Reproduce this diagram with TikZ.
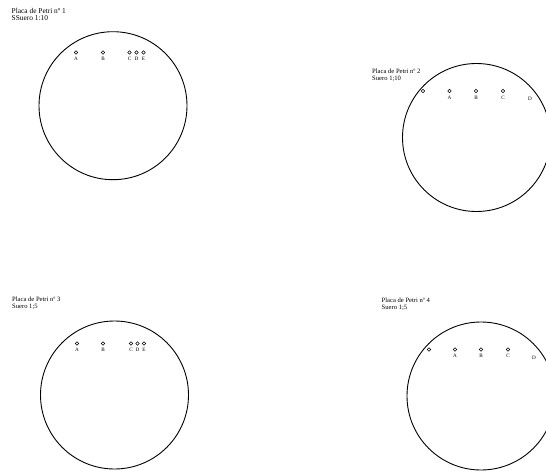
\documentclass[tikz,border=0pt]{standalone}
\usepackage{fontspec}
\setmainfont{Liberation Serif}
\usetikzlibrary{positioning}

\begin{document}
\begin{tikzpicture}[
      x=1pt, y=-1pt,
      plate/.style={circle, draw=black, line width=0.9pt, minimum size=148pt, inner sep=0pt},
      well/.style={circle, draw=black, line width=0.45pt, minimum size=3.6pt, inner sep=0pt},
      lbl/.style={font=\fontsize{5.2}{6}\selectfont, inner sep=0pt},
      title/.style={font=\fontsize{6.6}{7}\selectfont, align=left, anchor=north west, inner sep=0pt},
      tag/.style={label={[lbl, label distance=2.6pt]below:#1}},
    ]
    \useasboundingbox (0,0) rectangle (546,471);

    % plate 1
    \node[title, font=\fontsize{7.4}{7.2}\selectfont] (t1) at (11.5,8) {Placa de Petri nº 1\\ SSuero 1:10};
    \node[plate, minimum height=147pt] (p1) at (113,105.7) {};
    \node[well, tag=A] (w1a) at (76,52.5) {};
    \node[well, tag=B] (w1b) at (103,52.5) {};
    \node[well, tag=C] (w1c) at (129.5,52.5) {};
    \node[well, tag=D] (w1d) at (136.5,52.5) {};
    \node[well, tag=E] (w1e) at (143.5,52.5) {};

    % plate 2
    \node[title] (t2) at (372,68.5) {Placa de Petri nº 2\\ Suero 1;10};
    \node[plate] (p2) at (476.5,137.5) {};
    \node[well] (w2o) at (423,91) {};
    \node[well, tag=A] (w2a) at (449.5,91) {};
    \node[well, tag=B] (w2b) at (476,91) {};
    \node[well, tag=C] (w2c) at (503,91) {};
    \node[lbl] (w2d) at (530,98.5) {D};

    % plate 3
    \node[title] (t3) at (12,296.5) {Placa de Petri nº 3\\ Suero 1;5};
    \node[plate] (p3) at (114.5,395) {};
    \node[well, tag=A] (w3a) at (77,343.5) {};
    \node[well, tag=B] (w3b) at (103,343.5) {};
    \node[well, tag=C] (w3c) at (131,343.5) {};
    \node[well, tag=D] (w3d) at (137.5,343.5) {};
    \node[well, tag=E] (w3e) at (144,343.5) {};

    % plate 4
    \node[title] (t4) at (381.5,297.5) {Placa de Petri nº 4\\ Suero 1;5};
    \node[plate, minimum height=146.5pt] (p4) at (481,396) {};
    \node[well] (w4o) at (429,349.5) {};
    \node[well, tag=A] (w4a) at (455,349.5) {};
    \node[well, tag=B] (w4b) at (481,349.5) {};
    \node[well, tag=C] (w4c) at (508,349.5) {};
    \node[lbl] (w4d) at (534,357.5) {D};
  \end{tikzpicture}
\end{document}
